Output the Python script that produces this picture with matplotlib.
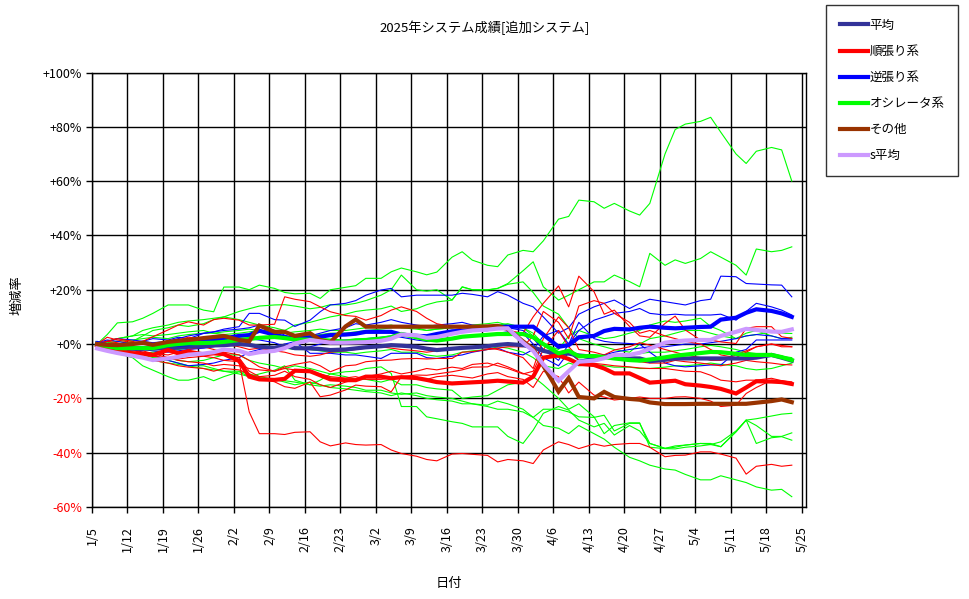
import numpy as np
import pandas as pd
import matplotlib
matplotlib.use("Agg")
import matplotlib.pyplot as plt
from matplotlib.lines import Line2D

plt.rcParams["font.family"] = ["Noto Sans CJK JP", "DejaVu Sans"]

# sample dates: Mon / Wed / Fri of every week, 2025-01-06 .. 2025-05-23
ORIGIN = pd.Timestamp("2025-01-05")
dates = [d for d in pd.bdate_range("2025-01-06", "2025-05-23") if d.weekday() in (0, 2, 4)]
days = np.array([(d - ORIGIN).days for d in dates])

tick_dates = pd.date_range("2025-01-05", "2025-05-25", freq="7D")
tick_days = [(d - ORIGIN).days for d in tick_dates]
tick_labels = [f"{d.month}/{d.day}" for d in tick_dates]

# ── group averages (thick lines), % change ───────────────────────────────────
avg_all = [-0.4, -0.8, -1.2, -1.5, -1.6, -1.6, -1.6, -1.3, -1.0, -0.8, -0.5, -0.4,
           0.0, -0.3, -1.0, -1.4, -0.6, -1.5, -1.6, -1.8, -2.2, -2.0, -1.6, -1.2,
           -0.8, -0.4, -0.6, -1.0, -1.7, -2.2, -1.7, -1.4, -1.2, -0.8, -0.3, 0.0,
           -0.4, -1.2, -2.5, -3.7, -3.5, -4.2, -4.7, -4.7, -4.7, -5.3, -5.3, -6.3,
           -5.8, -5.3, -5.3, -5.3, -5.3, -5.3, -5.3, -5.3, -5.0, -4.0, -5.0, -6.1]
avg_trend = [-0.4, -1.3, -2.8, -3.4, -3.7, -4.0, -2.2, -3.4, -2.8, -3.8, -3.4, -3.7,
             -6.2, -12.0, -13.0, -13.2, -12.8, -9.8, -10.0, -11.5, -13.0, -13.3, -13.3, -12.0,
             -12.0, -12.6, -12.2, -12.5, -13.2, -14.0, -14.5, -14.3, -14.1, -13.8, -13.5, -13.8,
             -14.2, -12.0, -5.0, -4.2, -5.5, -7.3, -7.7, -9.0, -10.8, -10.8, -12.5, -14.2,
             -13.8, -13.5, -14.8, -15.3, -15.8, -16.5, -18.2, -16.0, -13.7, -13.8, -14.0, -14.7]
avg_contra = [0.3, -0.5, -1.3, -1.6, -1.6, -1.2, -0.4, -0.2, 0.0, 1.0, 1.5, 2.1,
              3.0, 3.3, 4.9, 3.5, 2.5, 2.1, 2.4, 2.7, 3.3, 3.5, 3.8, 4.5,
              4.5, 4.5, 3.5, 3.0, 2.9, 3.7, 4.7, 4.9, 5.2, 5.5, 6.3, 6.4,
              6.4, 6.4, 3.5, -1.0, -0.4, 2.5, 3.0, 4.8, 5.6, 5.4, 6.0, 6.4,
              6.0, 5.8, 6.0, 6.3, 6.4, 9.0, 9.7, 11.5, 12.8, 12.2, 11.3, 10.0]
avg_osc = [0.0, -0.8, -1.5, -1.5, -1.5, -1.5, -0.4, 0.0, 0.3, 0.4, 0.5, 0.8,
           1.5, 1.9, 2.3, 2.6, 2.2, 1.7, 1.6, 1.5, 1.3, 0.9, 1.4, 1.5,
           2.0, 2.5, 3.7, 2.5, 1.7, 1.3, 2.0, 2.7, 3.0, 3.4, 3.7, 3.7,
           3.7, 2.5, 0.0, -3.4, -2.5, -4.5, -4.4, -4.8, -5.3, -5.9, -6.1, -5.7,
           -4.9, -4.3, -3.9, -3.3, -2.9, -3.0, -3.6, -4.0, -4.0, -4.0, -4.8, -5.9]
avg_other = [0.0, -0.3, -0.4, 0.0, 0.5, -0.3, 0.8, 1.2, 1.5, 2.2, 2.6, 3.0,
             1.5, 1.0, 6.8, 4.5, 4.5, 3.0, 4.0, 1.5, 0.6, 6.5, 9.0, 6.4,
             6.4, 6.4, 6.4, 6.4, 6.4, 6.4, 6.4, 6.4, 6.4, 6.5, 6.7, 5.5,
             1.0, -1.8, -8.0, -17.5, -12.5, -19.5, -20.0, -17.6, -19.5, -20.2, -20.5, -21.5,
             -22.1, -22.1, -22.1, -22.0, -22.0, -22.0, -22.0, -22.0, -21.6, -21.0, -20.4, -21.4]
avg_s = [-1.6, -2.5, -3.3, -4.3, -5.0, -5.9, -5.3, -4.7, -3.9, -3.5, -3.0, -2.0,
         -2.5, -3.7, -3.0, -2.5, -1.5, 0.2, 1.5, 1.0, 0.5, 0.5, 0.6, 0.7,
         1.2, 2.0, 3.5, 3.2, 2.3, 2.6, 3.8, 4.5, 5.0, 5.3, 5.7, 5.8,
         0.5, -2.5, -7.5, -13.5, -10.0, -6.5, -6.1, -5.2, -4.0, -4.0, -3.2, -1.7,
         0.5, 1.0, 1.3, 1.5, 1.5, 3.0, 4.5, 5.6, 5.2, 4.6, 4.5, 5.4]

# ── individual systems (thin lines) ──────────────────────────────────────────
trend_1 = [0, -1.5, -2.5, -3, -4, -4.5, -5, -5.5, -5, -4.5, -5, -6,
           -6.5, -25, -33, -33, -33.3, -32.5, -32.3, -36, -37.5, -36.4, -37, -37.2,
           -37, -39, -40.3, -41.3, -42.5, -43, -40.5, -40.3, -40.6, -41, -43.4, -42.5,
           -43, -44, -39, -36, -37, -38.5, -36.8, -37.6, -37, -36.6, -36.6, -38,
           -41.5, -41, -40.9, -39.7, -39.7, -40.5, -42, -47.9, -45, -44.3, -45, -44.6]
trend_2 = [0, 2.5, 1.5, 0.5, 1, 2.7, 5.2, 7, 8.2, 7, 9, 9.5,
           8.8, 7, 7, 7.3, 17.4, 16.5, 15.6, 13.7, 11.9, 10.5, 10.2, 8.8,
           10.5, 12.5, 13.7, 12, 9.5, 7.5, 6.4, 5.5, 5, 6, 7, 5,
           4, 10, 15, 21.4, 13.7, 25, 19.3, 11, 12.5, 6.5, 3, 2.5,
           7.6, 10.3, 5.2, 1.5, 1.5, 0.8, 0.2, 5.8, 6.4, 6.4, 2.7, 2.1]
trend_3 = [0, -1, -2, -2.5, -3, -3.5, -4, -3, -2, -1, -2, -3,
           -4, -6, -8.4, -10, -8.4, -7.5, -6.5, -8, -10.2, -8, -7.7, -6.5,
           -6, -5.9, -5.5, -5.3, -5.5, -5.3, -5.3, -3, -2.8, -2, -1.5, -1,
           -1, 3, 12, 8, 2, 14, 16, 15, 11.3, 8, 4, 5,
           3, 2, 1, 0, -2, -4, -5, -3, -1, 0, -1, -1]
trend_4 = [0, -2, -3, -3.5, -5, -6, -7, -8, -8.5, -9, -10, -9,
           -9.5, -11, -12.5, -13.9, -15.7, -16.3, -14, -19.4, -18.8, -16.9, -15.1, -15.5,
           -15.7, -17.6, -12, -11.4, -11.5, -11, -10.2, -9.5, -8.5, -8.4, -7, -8.4,
           -10.8, -12, -5, -3, -2, -6, -7.1, -7.5, -8, -8.4, -8.8, -9,
           -9, -9.5, -10, -10.2, -11.5, -13.3, -13.9, -13.3, -13.3, -12.6, -13.5, -15.1]
trend_5 = [0, 1, 0.5, -1, -2, -1.5, -2.5, -3, -4, -4, -3.5, -4,
           -5, -10, -12, -11.5, -10, -12, -13, -15, -16, -14, -13, -12,
           -11, -10, -11, -10, -9, -9.5, -8.5, -9, -7.5, -7, -8, -9,
           -11, -10, -2, 5, -1, -5, -4, -5, -4.5, -6, -6.5, -7,
           -7, -6, -6.5, -7, -7.5, -8, -7, -6, -6.5, -7, -7.5, -7.7]
trend_6 = [0, -1, -1.5, -2, -2.5, -3.5, -5, -6, -6.5, -7, -8, -7.5,
           -8, -9, -9.5, -10, -9, -9.5, -10, -11, -12, -12.5, -12, -13,
           -13, -12.5, -12, -12.5, -13, -12, -11.5, -12, -12.5, -11, -10.5, -12,
           -13, -16, -10, -12, -18, -14, -18.8, -19.5, -20.6, -20, -19.5, -20,
           -20, -19.5, -19.4, -20, -21, -23, -22.5, -18.2, -16, -13.3, -13.5, -13.9]
trend_7 = [0, 1, 2, 1, 0, -0.5, 0, 1.5, 2.5, 2, 1, 0,
           -1, -2, -1.5, -2.5, -3, -4, -4.5, -4, -3, -2.5, -2, -1.5,
           -1, -1.5, -2, -2.5, -3, -2.5, -2, -1.5, -1, -1.5, -2, -3,
           -5, -9, 2, 10, 6, -2, -3, -4, -2.2, -1, 0.5, -0.4,
           -2, -3, -4, -5, -6, -6, -4, -2.5, -1, 0, -0.5, -1]

contra_1 = [0.5, 1.5, 1, 0, 1, 2, 1.5, 2.5, 2, 3.9, 4.5, 5.5,
            6.4, 11.3, 11.3, 9, 8.8, 6.5, 8.8, 11.9, 14.4, 15, 16, 18,
            19.9, 20.5, 17.4, 18, 18, 18, 18, 18.7, 18.3, 17.4, 19.3, 18,
            15, 13.7, 10, 4, 6, 11, 13.7, 15, 16.2, 13.1, 15, 16.5,
            15.6, 15, 14.4, 16, 16.5, 25, 24.8, 22.3, 22.1, 21.8, 21.7, 17.4]
contra_2 = [0, 1, 2, 1.5, 1, 0.5, 1, 2, 3, 4, 4.5, 5,
            5.5, 6, 7, 5, 3.3, 2, 3, 4, 5, 6, 7.5, 7,
            8, 9, 8, 7, 6.5, 7, 7.5, 8, 7, 6.5, 7, 6,
            5, 2, -2, -6, 0, 5, 8.8, 10, 11.3, 12, 13.1, 11.3,
            10.7, 11, 10.7, 10.7, 10.7, 11, 8.8, 12, 15, 13.7, 12.5, 10.7]
contra_3 = [1, 0, -1, -2, -3, -4, -6, -7, -8, -7.5, -7, -6,
            -5, -3, -2, -1, 0, 0.9, -3.4, -3.4, -3.4, -4, -4, -4.5,
            -5.3, -3.4, -3.4, -3.4, -5, -5.3, -4.5, -4, -3, -2, -1.5, -3,
            -4, -2, 3, 5, 0, 8, 2, 1, 0.5, 0.2, 0, -3,
            -7, -8, -8.4, -8, -7.7, -7.7, -3, -2, 1.5, 1.5, 1.5, 1.5]
contra_4 = [0, -1, -1.5, -1.5, -2, -2.5, -3, -2.5, -2, -1.5, -1, 0,
            1, 2, 1.5, 0.5, -1, -2, -1, 0, 1, 1.5, 1.5, 2,
            2.5, 3, 2.5, 1.5, 1, 1.5, 2, 2.5, 3, 3.5, 4, 4.5,
            4, 0, -5, -8, -3, -6, -5, -4, -3, -2, -1.5, -1,
            -1, -0.5, 0, 0, 0.5, 1, 2, 3, 3.5, 3, 2, 2]

osc_1 = [0, 3.5, 7.8, 8.2, 9.5, 11.3, 14.4, 14.4, 14.4, 12.5, 11.9, 21,
         21, 20, 21.7, 20.5, 19, 18.5, 18.7, 16.8, 20, 20.9, 21.5, 24.2,
         24.2, 26.6, 28, 26.6, 25.5, 26.5, 32, 34, 30.9, 29, 28.5, 32.8,
         34.5, 34, 38, 46, 47, 53, 52.4, 50, 51.8, 49, 47.5, 51.8,
         70, 79, 81, 82, 83.5, 78, 70, 66.5, 71, 72.4, 71.5, 60]
osc_2 = [0, 1, 2, 3, 5, 6, 7, 8, 8.5, 9, 9.5, 10,
         12, 13, 14, 14.4, 14.5, 14, 13, 13.5, 14.5, 14.4, 15, 16,
         18, 20, 25.4, 20, 19.5, 20, 16.2, 21.1, 20, 19.9, 20.5, 22.3,
         27, 30.3, 21.1, 16.2, 18, 20, 22.9, 22.9, 25.4, 23, 21.1, 33.4,
         29, 31, 29.7, 31.5, 34, 32, 29, 25.4, 35, 34, 34.5, 35.8]
osc_3 = [0, 1, 0, 1, 3, 5, 6, 7, 6.5, 7.5, 9, 10,
         9, 8, 7, 6, 5, 7, 8, 9, 10, 11, 12, 12.5,
         13, 14, 12, 13, 14.5, 15.5, 16.2, 21, 20, 20, 20.5, 22,
         22.9, 19, 14, 11, 6, 2, 0, -1, -2, -3, 0, 2,
         3, 4, 5, 5, 4, 3, 2, 4, 5, 3, 2, 2.5]
osc_4 = [0, -1, -2, -3, -4, -5, -5, -6, -6.5, -6, -5, -4,
         -4, -6, -7, -8, -9, -8, -9, -10, -11, -12, -13, -13,
         -14, -13, -15, -15, -16, -16.5, -17, -20, -19.5, -19, -17, -15,
         -14, -12, -15, -20, -24, -22, -26.8, -33, -30, -29, -29, -38,
         -38.5, -38.6, -38, -37.5, -37, -36, -32, -28, -27.5, -26.5, -25.8, -25.5]
osc_5 = [0, -2, -3.4, -5, -8, -9.6, -12, -13.3, -13.3, -12, -13.5, -12,
         -10.2, -12, -11, -9.6, -8, -13.3, -15, -13.3, -11, -10.2, -10, -9,
         -8.4, -10.8, -23, -23, -26.8, -27.5, -28.6, -29.2, -30.5, -30.5, -30.5, -34,
         -36.6, -31.7, -25.5, -23, -24.3, -28, -30.5, -29.2, -33.5, -30, -32, -36.6,
         -38.4, -37.5, -37.2, -36.6, -36.6, -37.8, -32.3, -28, -30, -34, -34, -32.7]
osc_6 = [0, -1.5, -2.5, -4, -5, -6, -7, -7.5, -8, -8, -9, -10,
         -10, -11, -12, -13, -14, -15, -14, -15, -16, -16.5, -17, -17.5,
         -18, -19, -18, -19, -20, -20.5, -21, -22, -22, -23, -24, -24,
         -25, -27, -24, -24, -25, -26.8, -27, -26.2, -32, -29.2, -29.2, -36.6,
         -38.4, -38, -37.2, -36.6, -37, -37.8, -32.3, -28, -36.6, -34.5, -34.1, -35.4]
osc_7 = [0, -2, -3, -3.5, -5, -6, -6, -7, -8, -9, -9.5, -10,
         -11, -12, -12.5, -13, -13.5, -14, -15, -15.5, -15, -15.5, -16, -17,
         -17, -18, -18.5, -18, -19, -19.5, -20, -21, -22, -22.5, -21, -22,
         -24, -27, -30, -31, -33, -30, -33, -35, -38, -41.7, -43, -44.6,
         -46, -46.4, -48, -50, -50, -48.5, -50, -51, -52.6, -53.8, -53.5, -56.2]
osc_8 = [0, 0.5, 1, 1.5, 2, 2.5, 2, 3, 3.5, 4, 4, 4.5,
         5, 5.5, 5, 4.5, 4, 4.5, 5, 5.5, 5, 5, 5.5, 6,
         6.5, 7, 6, 5.5, 5, 5.5, 6, 6.5, 7, 7.5, 8, 7,
         6, 4, 0, -2, 3, 5, 3, 2, 2.5, 4, 5, 7,
         8.5, 8, 8.5, 9.5, 6.5, 5, 2, 3, 3.5, 4.5, 4, 3.9]
osc_9 = [0, -2, -3, -3, -3.5, -3, -2.5, -2, -1.5, -1, -0.5, 0,
         0.5, 0, -0.5, -1, -1.5, -2, -2, -2.5, -3, -3, -3.5, -3,
         -2.5, -2, -3, -3, -4, -4.5, -4, -3, -2.5, -2, -1, -1.5,
         -3, -5, -8, -9, -7, -8, -7.5, -8, -8.5, -8.5, -9, -9,
         -8.5, -8, -8, -7.5, -7, -7.5, -8, -9, -9.5, -9, -8, -7]
osc_10 = [0, 1, 2, 3, 3.5, 3, 3.5, 4, 4.5, 5, 4, 3.5,
          4, 4.5, 5, 5, 4, 3.5, 3, 3.5, 4, 4, 4.5, 5,
          5.5, 6, 6.5, 6, 5, 5.5, 6, 6.5, 6, 6.5, 7, 7.5,
          6, 3, -2, -5, -3, -6, -5, -4, -4.5, -4, -3.5, -3,
          -3, -2.5, -2, -1, -0.5, -1, -2, -3, -3.5, -4, -4.5, -5]

RED, BLUE, GREEN = "#ff0000", "#0000ff", "#00ff00"
thin_lines = (
    [(s, GREEN) for s in (osc_1, osc_2, osc_3, osc_4, osc_5, osc_6, osc_7, osc_8, osc_9, osc_10)]
    + [(s, BLUE) for s in (contra_1, contra_2, contra_3, contra_4)]
    + [(s, RED) for s in (trend_1, trend_2, trend_3, trend_4, trend_5, trend_6, trend_7)]
)

thick_lines = [
    ("平均", avg_all, "#333399"),
    ("順張り系", avg_trend, "#ff0000"),
    ("逆張り系", avg_contra, "#0000ff"),
    ("オシレータ系", avg_osc, "#00ff00"),
    ("その他", avg_other, "#993300"),
    ("s平均", avg_s, "#cc99ff"),
]

W, H = 970, 599
fig = plt.figure(figsize=(W / 100, H / 100), dpi=100)
ax = fig.add_axes([92 / W, 1 - 507 / H, 714 / W, 434.5 / H])

for vals, col in thin_lines:
    ax.plot(days, vals, color=col, lw=0.8, zorder=3)

handles = []
for lbl, vals, col in thick_lines:
    ax.plot(days, vals, color=col, lw=3.0, zorder=4, solid_joinstyle="miter")
    handles.append(Line2D([], [], color=col, lw=3.0, label=lbl))

ax.set_xlim(0, 140.8)
ax.set_ylim(-60, 100)
ax.set_xticks(tick_days)
ax.set_xticklabels(tick_labels, rotation=90, fontsize=9)
yt = list(range(-60, 101, 20))
ax.set_yticks(yt)
ax.set_yticklabels([f"{v:+d}%" for v in yt], fontsize=9)
for lab, v in zip(ax.get_yticklabels(), yt):
    lab.set_color("red" if v < 0 else "black")
ax.tick_params(direction="out", length=4, width=1, color="black", pad=3)
ax.tick_params(axis="x", pad=10)
ax.grid(True, color="black", lw=1.0, zorder=1)
ax.set_axisbelow(True)
for sp in ax.spines.values():
    sp.set_color("black")
    sp.set_linewidth(1.0)

fig.text(0.5, 1 - 28 / H, "2025年システム成績[追加システム]", ha="center", va="center", fontsize=9.5)
fig.text(17 / W, 1 - 295 / H, "増減率", rotation=90, ha="center", va="center", fontsize=9.5)
fig.text(449 / W, 1 - 583 / H, "日付", ha="center", va="center", fontsize=9.5)

leg = fig.legend(handles=handles, loc="upper left", bbox_to_anchor=(826 / W, 1 - 5 / H),
                 borderaxespad=0, fontsize=9, frameon=True, fancybox=False,
                 handlelength=2.3, handletextpad=0.1, borderpad=1.1, labelspacing=1.05)
leg.get_frame().set_edgecolor("black")
leg.get_frame().set_linewidth(1.0)

fig.savefig("out.png", dpi=100)
